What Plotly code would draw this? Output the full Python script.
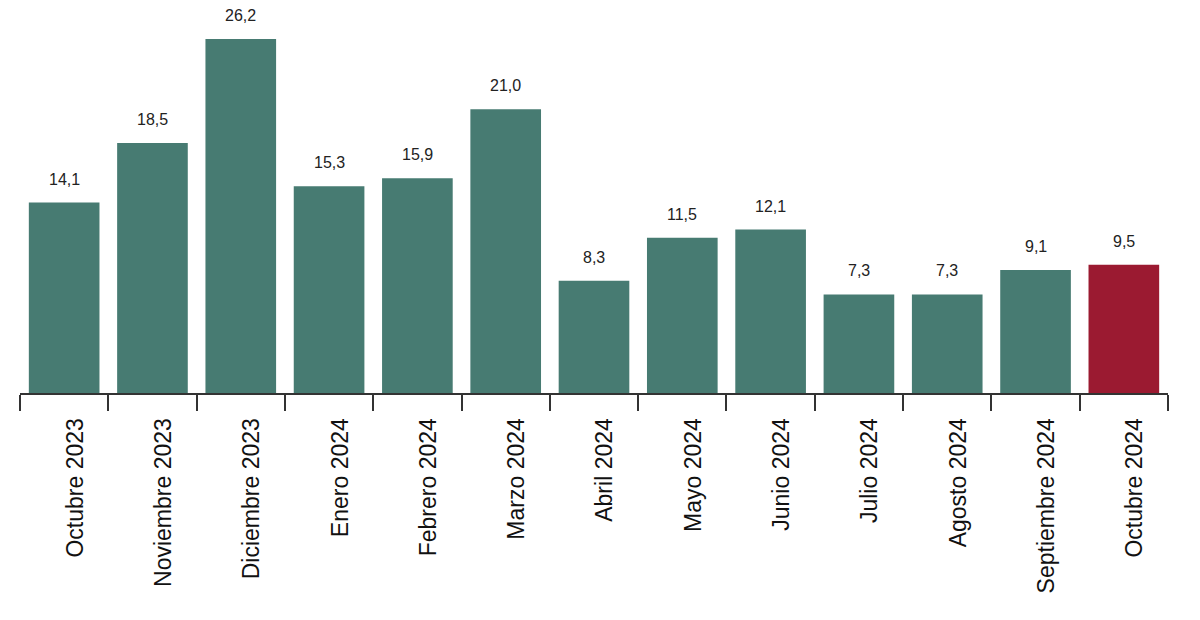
import plotly.graph_objects as go

categories = ["Octubre 2023", "Noviembre 2023", "Diciembre 2023", "Enero 2024",
              "Febrero 2024", "Marzo 2024", "Abril 2024", "Mayo 2024", "Junio 2024",
              "Julio 2024", "Agosto 2024", "Septiembre 2024", "Octubre 2024"]
values = [14.1, 18.5, 26.2, 15.3, 15.9, 21.0, 8.3, 11.5, 12.1, 7.3, 7.3, 9.1, 9.5]

TEAL = "#477B72"
RED = "#9B1A31"
colors = [TEAL] * (len(values) - 1) + [RED]

fig = go.Figure(go.Bar(
    x=categories, y=values,
    marker=dict(color=colors, line=dict(width=0)),
    hoverinfo="skip",
))

for c, v in zip(categories, values):
    fig.add_annotation(
        x=c, y=v, text=f"{v:.1f}".replace(".", ","),
        showarrow=False, yanchor="bottom", yshift=13,
        font=dict(family="Liberation Sans, Arial", size=16, color="#222222"),
    )

fig.update_layout(
    width=1200, height=620,
    margin=dict(l=20, r=32, t=0, b=227),
    paper_bgcolor="white", plot_bgcolor="white",
    bargap=0.2, showlegend=False,
    xaxis=dict(
        type="category", tickson="boundaries", ticks="outside", ticklen=16,
        tickwidth=2, tickcolor="#333333", showline=True, linecolor="#333333",
        linewidth=2, tickangle=-90, showgrid=False,
        ticklabelstandoff=14, ticklabelshift=11,
        tickfont=dict(family="Liberation Sans, Arial", size=23, color="#111111"),
    ),
    yaxis=dict(range=[0, 29.09], visible=False, showgrid=False, zeroline=False),
)

fig.write_html("out.html")
